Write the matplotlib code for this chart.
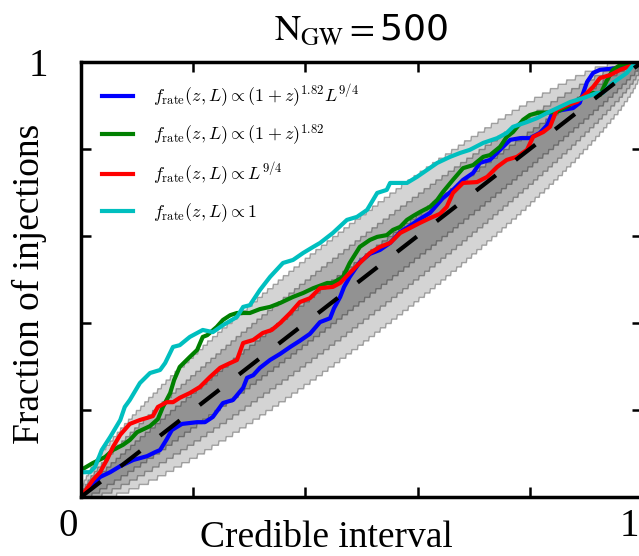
import math

import matplotlib
matplotlib.use("Agg")
import matplotlib.pyplot as plt
import matplotlib.transforms as mtransforms
import numpy as np

plt.rcParams['font.family'] = 'serif'
plt.rcParams['font.serif'] = ['Liberation Serif', 'DejaVu Serif']
plt.rcParams['mathtext.fontset'] = 'cm'

# P-P curves: credible interval vs. fraction of injections found inside it
x_both = [0.0, 0.016, 0.034, 0.052, 0.070, 0.093, 0.118, 0.132, 0.141, 0.152, 0.162, 0.180, 0.207, 0.221,
          0.235, 0.253, 0.271, 0.289, 0.296, 0.307, 0.319, 0.337, 0.355, 0.373, 0.390, 0.408, 0.426, 0.444,
          0.451, 0.462, 0.469, 0.479, 0.497, 0.515, 0.533, 0.551, 0.569, 0.586, 0.604, 0.622, 0.645, 0.663,
          0.681, 0.699, 0.711, 0.729, 0.747, 0.765, 0.783, 0.800, 0.818, 0.831, 0.841, 0.859, 0.877, 0.889,
          0.902, 0.913, 0.925, 0.955, 0.966, 0.984, 1.0]
y_both = [0.0, 0.023, 0.046, 0.057, 0.071, 0.085, 0.094, 0.103, 0.108, 0.131, 0.154, 0.168, 0.172, 0.172,
          0.184, 0.216, 0.223, 0.251, 0.274, 0.280, 0.297, 0.315, 0.329, 0.345, 0.359, 0.375, 0.402, 0.411,
          0.434, 0.460, 0.483, 0.506, 0.540, 0.559, 0.568, 0.584, 0.609, 0.623, 0.639, 0.653, 0.687, 0.706,
          0.729, 0.745, 0.768, 0.775, 0.798, 0.821, 0.825, 0.825, 0.837, 0.855, 0.885, 0.890, 0.894, 0.906,
          0.954, 0.975, 0.982, 0.986, 0.993, 1.0, 1.0]

x_z = [0.0, 0.021, 0.043, 0.057, 0.075, 0.087, 0.100, 0.123, 0.137, 0.146, 0.159, 0.166, 0.176, 0.194,
       0.207, 0.217, 0.225, 0.242, 0.253, 0.266, 0.278, 0.301, 0.319, 0.337, 0.355, 0.378, 0.396, 0.414,
       0.439, 0.449, 0.467, 0.479, 0.497, 0.515, 0.528, 0.545, 0.556, 0.569, 0.581, 0.592, 0.604, 0.622,
       0.635, 0.645, 0.663, 0.681, 0.699, 0.717, 0.729, 0.747, 0.759, 0.770, 0.788, 0.800, 0.813, 0.848,
       0.866, 0.877, 0.895, 0.913, 0.925, 0.938, 0.948, 0.961, 0.984, 1.0]
y_z = [0.062, 0.078, 0.092, 0.108, 0.120, 0.131, 0.149, 0.163, 0.179, 0.207, 0.239, 0.269, 0.299, 0.322,
       0.338, 0.368, 0.372, 0.391, 0.407, 0.418, 0.423, 0.423, 0.432, 0.437, 0.446, 0.460, 0.469, 0.480,
       0.492, 0.492, 0.506, 0.538, 0.575, 0.591, 0.598, 0.602, 0.614, 0.621, 0.637, 0.646, 0.655, 0.667,
       0.683, 0.701, 0.729, 0.756, 0.763, 0.782, 0.786, 0.805, 0.828, 0.839, 0.867, 0.878, 0.883, 0.885,
       0.897, 0.906, 0.920, 0.929, 0.924, 0.959, 0.982, 0.993, 1.0, 1.0]

x_L = [0.0, 0.021, 0.034, 0.046, 0.057, 0.070, 0.087, 0.105, 0.118, 0.128, 0.137, 0.153, 0.164, 0.176,
       0.194, 0.212, 0.230, 0.248, 0.266, 0.278, 0.289, 0.307, 0.324, 0.340, 0.355, 0.373, 0.390, 0.408,
       0.426, 0.449, 0.462, 0.479, 0.497, 0.515, 0.533, 0.551, 0.569, 0.586, 0.604, 0.622, 0.640, 0.652,
       0.663, 0.681, 0.706, 0.724, 0.742, 0.759, 0.777, 0.795, 0.806, 0.824, 0.836, 0.848, 0.866, 0.884,
       0.902, 0.913, 0.925, 0.943, 0.961, 0.984, 1.0]
y_L = [0.0, 0.039, 0.057, 0.085, 0.115, 0.143, 0.168, 0.177, 0.182, 0.186, 0.207, 0.218, 0.218, 0.228,
       0.239, 0.253, 0.276, 0.297, 0.308, 0.315, 0.354, 0.361, 0.377, 0.384, 0.400, 0.423, 0.448, 0.457,
       0.480, 0.483, 0.492, 0.515, 0.538, 0.561, 0.575, 0.584, 0.607, 0.618, 0.630, 0.641, 0.651, 0.667,
       0.699, 0.722, 0.724, 0.736, 0.759, 0.775, 0.782, 0.798, 0.828, 0.839, 0.851, 0.890, 0.901, 0.908,
       0.929, 0.943, 0.963, 0.970, 0.982, 0.993, 1.0]

x_flat = [0.0, 0.016, 0.025, 0.037, 0.052, 0.070, 0.078, 0.087, 0.105, 0.123, 0.141, 0.150, 0.164, 0.176,
          0.194, 0.217, 0.235, 0.253, 0.278, 0.289, 0.301, 0.319, 0.337, 0.360, 0.378, 0.396, 0.414, 0.426,
          0.449, 0.474, 0.492, 0.510, 0.528, 0.545, 0.551, 0.581, 0.599, 0.617, 0.635, 0.658, 0.676, 0.693,
          0.717, 0.742, 0.759, 0.770, 0.795, 0.813, 0.831, 0.854, 0.872, 0.895, 0.920, 0.930, 0.948, 0.973,
          0.984, 1.0]
y_flat = [0.057, 0.057, 0.069, 0.108, 0.138, 0.177, 0.207, 0.223, 0.262, 0.285, 0.292, 0.308, 0.345, 0.349,
          0.368, 0.384, 0.379, 0.395, 0.414, 0.437, 0.441, 0.476, 0.506, 0.538, 0.545, 0.561, 0.575, 0.584,
          0.607, 0.637, 0.644, 0.660, 0.699, 0.706, 0.722, 0.722, 0.736, 0.752, 0.768, 0.782, 0.791, 0.798,
          0.814, 0.825, 0.837, 0.851, 0.862, 0.871, 0.883, 0.897, 0.908, 0.917, 0.929, 0.929, 0.952, 0.975,
          0.993, 1.0]

labels = [r'$f_{\rm rate}(z, L) \propto (1+z)^{1.82} L^{9/4}$',
          r'$f_{\rm rate}(z, L) \propto (1+z)^{1.82}$',
          r'$f_{\rm rate}(z, L) \propto L^{9/4}$',
          r'$f_{\rm rate}(z, L) \propto 1$']
colors = ['b', 'g', 'r', 'c']

# binomial confidence bands around the diagonal
n_band = 100
band_levels = [0.68, 0.95, 0.997]


def binom_band(n, p, cl):
    k = np.arange(n + 1)
    logc = np.array([math.lgamma(n + 1) - math.lgamma(i + 1) - math.lgamma(n - i + 1) for i in k])
    p = np.clip(p, 1e-12, 1 - 1e-12)
    logpmf = logc[None, :] + k[None, :] * np.log(p)[:, None] + (n - k)[None, :] * np.log(1 - p)[:, None]
    cdf = np.cumsum(np.exp(logpmf), axis=1)
    lo = np.argmax(cdf >= (1 - cl) / 2, axis=1) / n
    hi = np.argmax(cdf >= 1 - (1 - cl) / 2, axis=1) / n
    return lo, hi


fig = plt.figure(figsize=(6.39, 5.56), dpi=100)
ax = fig.add_axes([81 / 639, 59 / 556, 561 / 639, 435 / 556])

grid = np.linspace(0, 1, 1001)
for cl in band_levels:
    lo, hi = binom_band(n_band, grid, cl)
    ax.fill_between(grid, lo, hi, facecolor=(0, 0, 0, 0.17), edgecolor=(0.4, 0.4, 0.4, 0.55), lw=1.0)

for xs, ys, c, lab in zip([x_both, x_z, x_L, x_flat], [y_both, y_z, y_L, y_flat], colors, labels):
    ax.plot(xs, ys, color=c, lw=3, label=lab)

ax.plot([0, 1], [0, 1], 'k--', lw=3, dashes=(6, 6))

ax.set_xlim(0, 1)
ax.set_ylim(0, 1)
ax.set_xticks([0, 0.2, 0.4, 0.6, 0.8, 1])
ax.set_yticks([0, 0.2, 0.4, 0.6, 0.8, 1])
ax.set_xticklabels(['0', '', '', '', '', '1'])
ax.set_yticklabels(['', '', '', '', '', '1'])
ax.tick_params(direction='in', length=7, width=1.8, top=True, right=True, labelsize=28)
ax.tick_params(axis='x', pad=8)
ax.tick_params(axis='y', pad=24)
shift = mtransforms.ScaledTranslation(-13 / 100, 0, fig.dpi_scale_trans)
for tl in ax.get_xticklabels():
    tl.set_transform(tl.get_transform() + shift)
for sp in ax.spines.values():
    sp.set_linewidth(2.5)

ax.set_xlabel('Credible interval', fontsize=27)
ax.xaxis.set_label_coords(0.437, -0.055)
ax.set_ylabel('Fraction of injections', fontsize=27)
ax.yaxis.set_label_coords(-0.06, 0.49)
ax.set_title(r'$\mathrm{N_{GW}}=$500', fontsize=26, family='DejaVu Sans', math_fontfamily='stix', pad=16)

ax.legend(loc='upper left', frameon=False, fontsize=13, handlelength=1.75, handletextpad=1.1,
          borderaxespad=0.75, labelspacing=0.7)

fig.savefig('out.png', dpi=100)
